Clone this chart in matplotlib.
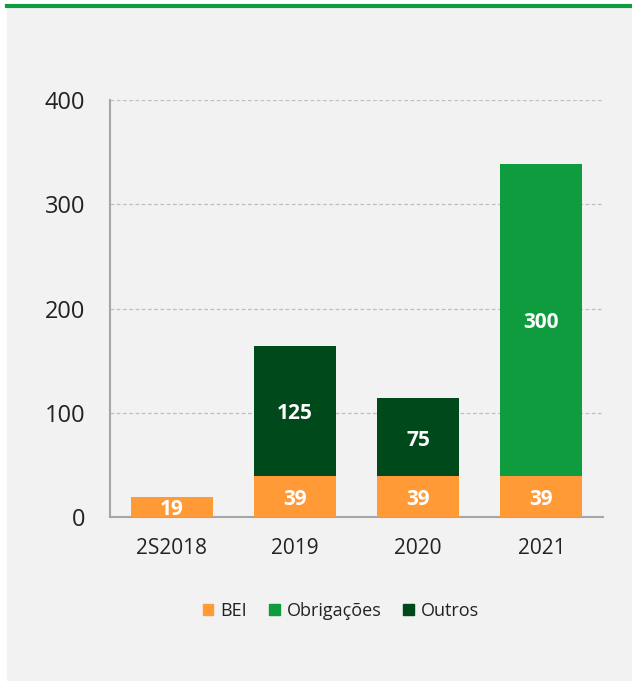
import matplotlib
matplotlib.use("Agg")
import matplotlib.pyplot as plt
from matplotlib.patches import Rectangle
from matplotlib.lines import Line2D

categories = ["2S2018", "2019", "2020", "2021"]
bei = [19, 39, 39, 39]
obrigacoes = [0, 0, 0, 300]
outros = [0, 125, 75, 0]
series_names = ["BEI", "Obrigações", "Outros"]
yticks = [0, 100, 200, 300, 400]

c_bei = "#FF9A37"
c_obr = "#0E9C3E"
c_out = "#00491A"
bg = "#F2F2F2"

plt.rcParams['font.family'] = ['Open Sans', 'DejaVu Sans']

W, H = 632, 681
fig = plt.figure(figsize=(W/100, H/100), dpi=100)
fig.patch.set_facecolor("white")
# gray panel
fig.patches.append(Rectangle((7/W, 0), 1 - 7/W, 1 - 6/H, transform=fig.transFigure,
                             facecolor=bg, edgecolor="none", zorder=-10))
fig.lines.append(Line2D([7/W, 1], [1 - 6/H, 1 - 6/H], transform=fig.transFigure,
                        color="#0E9C3E", lw=3, zorder=-5))

x0, x1 = 110, 603
y0, y1 = 517, 100
ax = fig.add_axes([x0/W, 1 - y0/H, (x1 - x0)/W, (y0 - y1)/H])
ax.set_zorder(1)
ax.set_facecolor("none")
x = list(range(len(categories)))
w = 0.665
ax.bar(x, bei, w, color=c_bei, label=series_names[0], zorder=3)
ax.bar(x, obrigacoes, w, bottom=bei, color=c_obr, label=series_names[1], zorder=3)
bot2 = [b + o for b, o in zip(bei, obrigacoes)]
ax.bar(x, outros, w, bottom=bot2, color=c_out, label=series_names[2], zorder=3)

lab_kw = dict(ha="center", va="center", color="white", fontsize=15, fontweight="bold",
              zorder=4, textcoords="offset points", xytext=(0, -2))
for i in x:
    ax.annotate(str(bei[i]), (i, bei[i] / 2), **lab_kw)
    if obrigacoes[i]:
        ax.annotate(str(obrigacoes[i]), (i, bei[i] + obrigacoes[i] / 2), **lab_kw)
    if outros[i]:
        ax.annotate(str(outros[i]), (i, bot2[i] + outros[i] / 2), **lab_kw)

ax.set_xlim(-0.5, 3.5)
ax.set_ylim(0, 400)
ax.set_yticks(yticks)
ax.set_yticklabels([str(t) for t in yticks], fontsize=17, color="#222222")
ax.set_xticks(x)
ax.set_xticklabels(categories, fontsize=15, color="#222222")
ax.tick_params(axis="both", length=0)
ax.tick_params(axis="y", pad=18)
ax.tick_params(axis="x", pad=15)
for t in yticks[1:]:
    ax.axhline(t, color="#BFBFBF", lw=0.9, ls=(0, (3, 2)), zorder=1)
for s in ["top", "right"]:
    ax.spines[s].set_visible(False)
for s in ["left", "bottom"]:
    ax.spines[s].set_color("#A6A6A6")
    ax.spines[s].set_linewidth(1.5)

handles = [Rectangle((0, 0), 1, 1, color=c) for c in (c_bei, c_obr, c_out)]
fig.legend(handles, series_names, loc="center", bbox_to_anchor=(341/W, 1 - 611/H),
           ncol=3, frameon=False, fontsize=13, handlelength=0.6, handleheight=0.6,
           handletextpad=0.4, columnspacing=1.2, labelcolor="#222222")

fig.savefig("out.png", dpi=100, facecolor=fig.get_facecolor())
